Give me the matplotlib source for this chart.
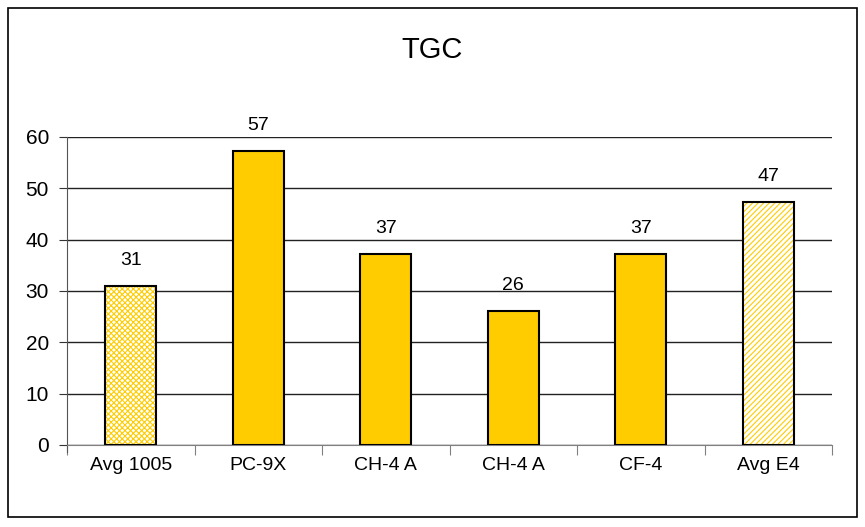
import matplotlib.pyplot as plt
from matplotlib.patches import Rectangle

plt.rcParams['font.family'] = ['Liberation Sans', 'DejaVu Sans']
plt.rcParams['hatch.linewidth'] = 0.8

categories = ['Avg 1005', 'PC-9X', 'CH-4 A', 'CH-4 A', 'CF-4', 'Avg E4']
values = [31, 57.2, 37.2, 26.2, 37.2, 47.4]
labels = ['31', '57', '37', '26', '37', '47']
hatches = ['xxxxxx', None, None, None, None, '//////']

gold = '#FFCC00'

fig = plt.figure(figsize=(8.65, 5.27), dpi=100)
fig.patches.append(Rectangle((8 / 865, 10 / 527), 849 / 865, 509 / 527,
                             transform=fig.transFigure, fill=False,
                             edgecolor='black', linewidth=1.2))
ax = fig.add_axes([67 / 865, 82 / 527, 765 / 865, 308 / 527])

x = list(range(len(categories)))
for i, v in enumerate(values):
    if hatches[i]:
        ax.bar(x[i], v, width=0.4, color='white', edgecolor=gold,
               hatch=hatches[i], linewidth=0, zorder=2)
        ax.bar(x[i], v, width=0.4, fill=False, edgecolor='black',
               linewidth=1.5, zorder=3)
    else:
        ax.bar(x[i], v, width=0.4, color=gold, edgecolor='black',
               linewidth=1.5, zorder=3)
    ax.text(x[i], v + 3.3, labels[i], ha='center', va='bottom', fontsize=14)

ax.set_xlim(-0.5, len(categories) - 0.5)
ax.set_ylim(0, 60)
ax.set_yticks(range(0, 61, 10))
ax.yaxis.grid(True, color='#222222', linewidth=1)
ax.set_axisbelow(True)

ax.set_xticks([i - 0.5 for i in range(len(categories) + 1)], minor=False)
ax.set_xticklabels([''] * (len(categories) + 1))
ax.set_xticks(x, minor=True)
ax.set_xticklabels(categories, minor=True, fontsize=14)
ax.tick_params(axis='x', which='minor', length=0, pad=9)
ax.tick_params(axis='x', which='major', length=7, color='#808080')
ax.tick_params(axis='y', length=6, labelsize=15, color='#333333', pad=7)

ax.spines['top'].set_visible(False)
ax.spines['right'].set_visible(False)
ax.spines['bottom'].set_color('#808080')
ax.spines['left'].set_color('#555555')
ax.spines['left'].set_bounds(-1.3, 60)

fig.text(0.5, 1 - 50 / 527, 'TGC', ha='center', va='center', fontsize=21)

fig.savefig('out.png', dpi=100)
